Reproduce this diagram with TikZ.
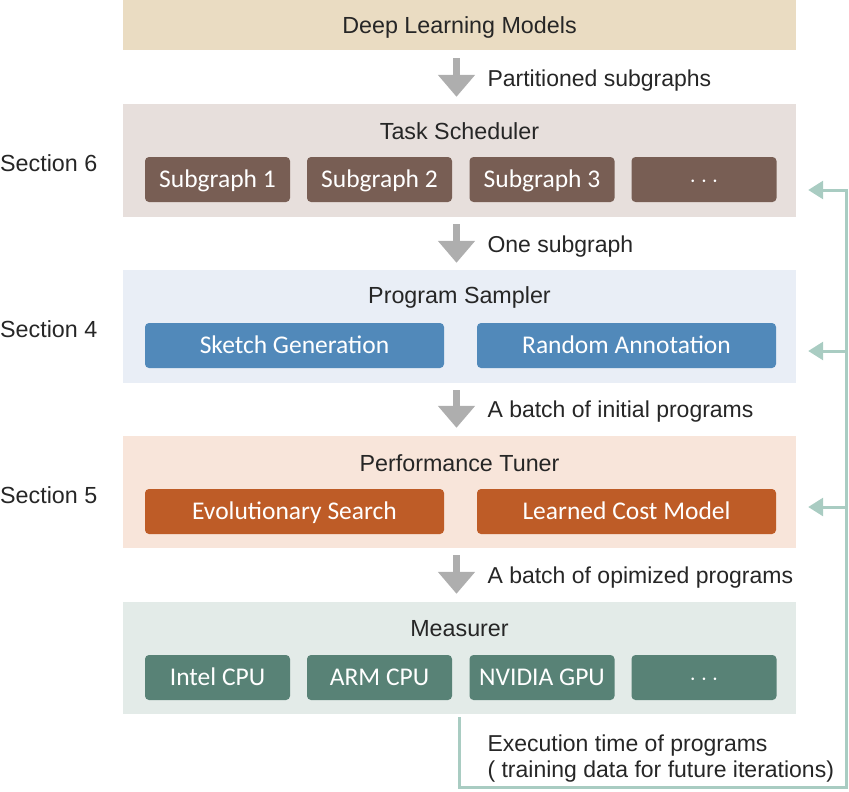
\documentclass[tikz,border=0pt]{standalone}
\usepackage{fontspec}
\setmainfont{Liberation Sans}
\newfontfamily\boxfont{Carlito}
\usetikzlibrary{arrows.meta}
\definecolor{dlmcol}{HTML}{EADCC2}
\definecolor{tscol}{HTML}{E7DFDC}
\definecolor{pscol}{HTML}{E9EEF6}
\definecolor{ptcol}{HTML}{F8E5DA}
\definecolor{mscol}{HTML}{E3EBE8}
\definecolor{sgcol}{HTML}{785E54}
\definecolor{sacol}{HTML}{5189BA}
\definecolor{tucol}{HTML}{BE5C27}
\definecolor{mecol}{HTML}{588276}
\definecolor{flowcol}{HTML}{AEAEAE}
\definecolor{fbcol}{HTML}{A9CCC2}
\definecolor{txtcol}{HTML}{262626}
\tikzset{
  band/.style={rectangle, inner sep=0pt, minimum width=673pt},
  title/.style={font=\fontsize{23.3}{27}\selectfont, text=txtcol},
  lbl/.style={font=\fontsize{23}{26}\selectfont, text=txtcol, anchor=west},
  item/.style={rectangle, rounded corners=4pt, inner sep=0pt, minimum height=45pt,
    text height=16.5pt, text depth=0pt,
    text=white, font=\boxfont\fontsize{25.5}{28}\selectfont},
  small/.style={item, minimum width=145pt},
  wide/.style={item, minimum width=299pt},
  flow/.style={draw=flowcol, line width=7pt, -{Triangle[width=36pt,length=22pt]}},
  fb/.style={draw=fbcol, line width=3pt},
  fbarrow/.style={fb, -{Triangle[width=18pt,length=15pt]}}
}
\begin{document}
\begin{tikzpicture}[x=1pt,y=-1pt]
\useasboundingbox (0,0) rectangle (849,792);
% layers
\node[band, fill=dlmcol, minimum height=50pt] (dlm) at (459.5,25) {};
\node[band, fill=tscol, minimum height=113pt] (ts) at (459.5,160.5) {};
\node[band, fill=pscol, minimum height=113pt] (ps) at (459.5,326.5) {};
\node[band, fill=ptcol, minimum height=112pt] (pt) at (459.5,492) {};
\node[band, fill=mscol, minimum height=112pt] (ms) at (459.5,658) {};
\node[title] (dlmt) at (459.5,27) {Deep Learning Models};
\node[title] (tst) at (459.5,131) {Task Scheduler};
\node[title] (pst) at (459.5,297) {Program Sampler};
\node[title] (ptt) at (459.5,463) {Performance Tuner};
\node[title] (mst) at (459.5,629) {Measurer};
% task scheduler
\node[small, fill=sgcol] (sg1) at (217.5,179.5) {Subgraph 1};
\node[small, fill=sgcol] (sg2) at (379.5,179.5) {Subgraph 2};
\node[small, fill=sgcol] (sg3) at (542,179.5) {Subgraph 3};
\node[small, fill=sgcol] (sg4) at (704,179.5) {$\cdots$};
% program sampler
\node[wide, fill=sacol] (sk) at (294.5,345.5) {Sketch Generation};
\node[wide, fill=sacol] (ra) at (626.5,345.5) {Random Annotation};
% performance tuner
\node[wide, fill=tucol] (es) at (294.5,511.5) {Evolutionary Search};
\node[wide, fill=tucol] (lcm) at (626.5,511.5) {Learned Cost Model};
% measurer
\node[small, fill=mecol] (cpu1) at (217.5,677.5) {Intel CPU};
\node[small, fill=mecol] (cpu2) at (379.5,677.5) {ARM CPU};
\node[small, fill=mecol] (gpu) at (542,677.5) {NVIDIA GPU};
\node[small, fill=mecol] (dev) at (704,677.5) {$\cdots$};
% sections
\node[title, anchor=west, inner sep=0pt] (s6) at (0,163) {Section 6};
\node[title, anchor=west, inner sep=0pt] (s4) at (0,329) {Section 4};
\node[title, anchor=west, inner sep=0pt] (s5) at (0,495) {Section 5};
% flow between layers
\draw[flow, shorten <=8pt, shorten >=7pt] ([xshift=-3pt]dlm.south) -- ([xshift=-3pt]ts.north);
\draw[flow, shorten <=7pt, shorten >=7pt] ([xshift=-3pt]ts.south) -- ([xshift=-3pt]ps.north);
\draw[flow, shorten <=7pt, shorten >=8pt] ([xshift=-3pt]ps.south) -- ([xshift=-3pt]pt.north);
\draw[flow, shorten <=7pt, shorten >=8pt] ([xshift=-3pt]pt.south) -- ([xshift=-3pt]ms.north);
\node[lbl] (l1) at (484,81) {Partitioned subgraphs};
\node[lbl] (l2) at (484,247) {One subgraph};
\node[lbl] (l3) at (484,412) {A batch of initial programs};
\node[lbl] (l4) at (484,578) {A batch of opimized programs};
% feedback
\coordinate (fb1) at (846,190);
\coordinate (fb2) at (846,351);
\coordinate (fb3) at (846,507);
\coordinate (fbbot) at (846,787);
\draw[fb] ([yshift=-3pt]ms.south) |- (fbbot) -- (fb1) -- ++(-5,0);
\draw[fbarrow] (fb1) -- ([xshift=12pt]ts.east |- fb1);
\draw[fbarrow] (fb2) -- ([xshift=12pt]ps.east |- fb2);
\draw[fbarrow] (fb3) -- ([xshift=12pt]pt.east |- fb3);
\node[lbl, align=left, anchor=north west] (fbl) at (484,731) {Execution time of programs\\( training data for future iterations)};
\end{tikzpicture}
\end{document}
